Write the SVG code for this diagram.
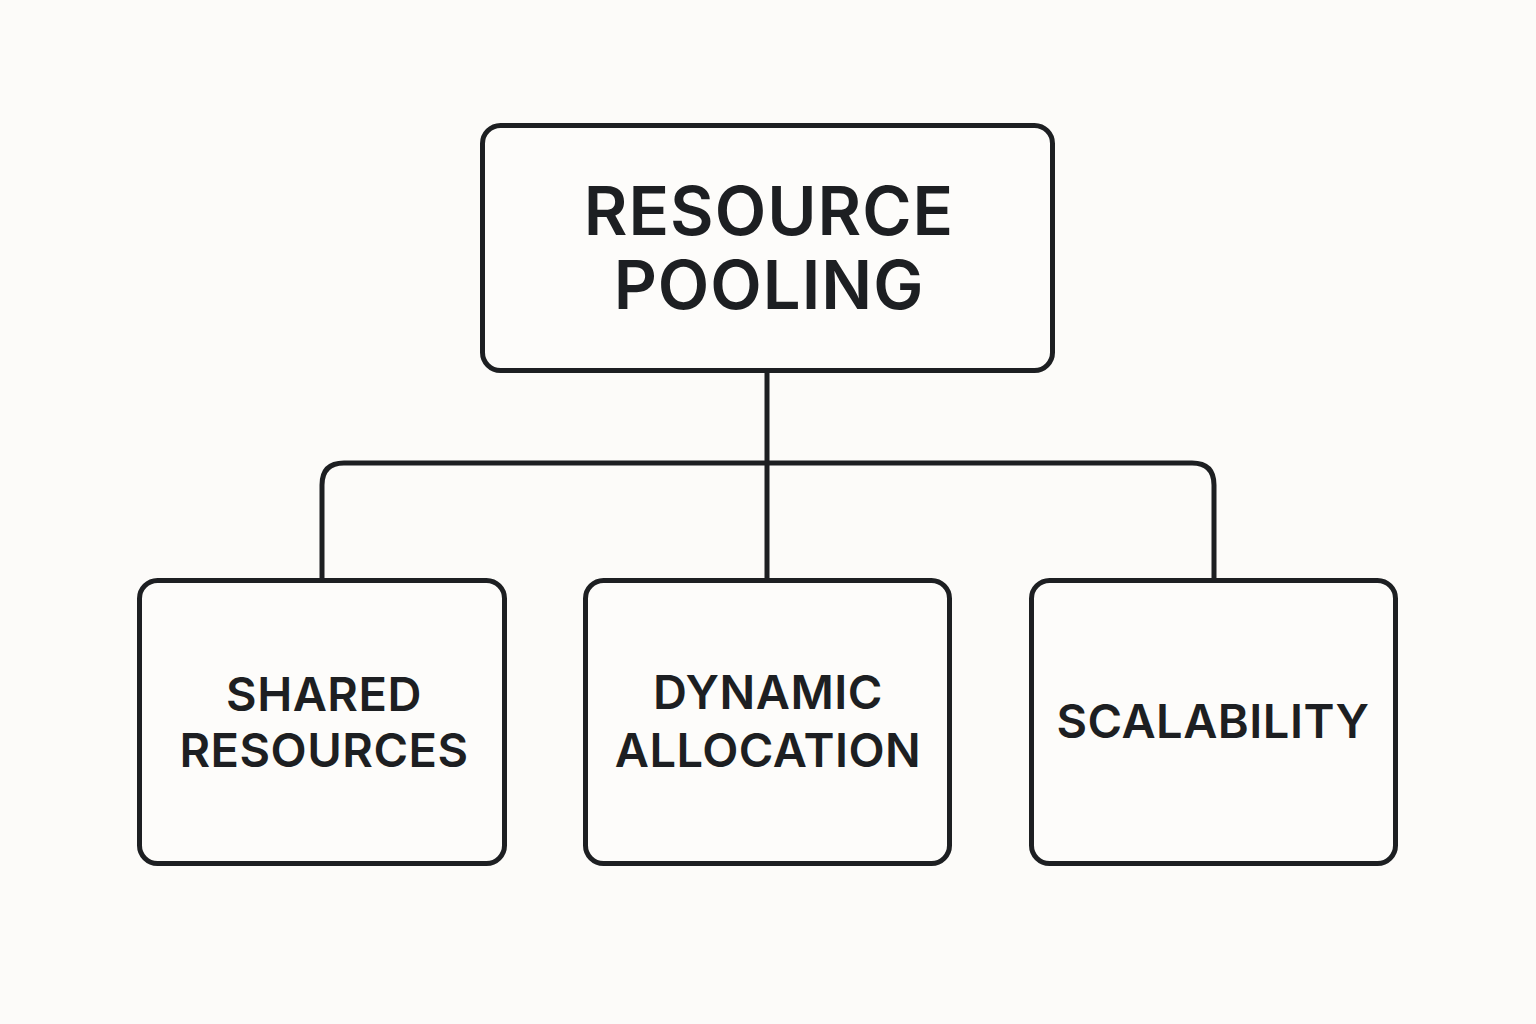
<svg xmlns="http://www.w3.org/2000/svg" width="1536" height="1024" viewBox="0 0 1536 1024">
<style>
.box{fill:#fdfcfa;stroke:#1d1f22;stroke-width:5}
.con{fill:none;stroke:#1d1f22;stroke-width:5}
.t{font-family:Inter,"Liberation Sans",sans-serif;font-weight:600;fill:#1d1f22;text-anchor:middle}
.big{font-size:67px;letter-spacing:1px}
.sm{font-size:47px;letter-spacing:0.5px}
</style>
<rect width="1536" height="1024" fill="#fcfbf9"/>
<g id="connectors">
<path class="con" d="M767 371 V580"/>
<path class="con" d="M322 580 V485 Q322 463 344 463 H1192 Q1214 463 1214 485 V580"/>
</g>
<g id="root">
<rect class="box" x="482.5" y="125.5" width="570" height="245" rx="18"/>
<text class="t big" x="769" y="235">RESOURCE</text>
<text class="t big" x="769" y="309">POOLING</text>
</g>
<g id="shared">
<rect class="box" x="139.5" y="580.5" width="365" height="283" rx="18"/>
<text class="t sm" x="324" y="711">SHARED</text>
<text class="t sm" x="324" y="767">RESOURCES</text>
</g>
<g id="dynamic">
<rect class="box" x="585.5" y="580.5" width="364" height="283" rx="18"/>
<text class="t sm" x="768" y="709">DYNAMIC</text>
<text class="t sm" x="768" y="767">ALLOCATION</text>
</g>
<g id="scalability">
<rect class="box" x="1031.5" y="580.5" width="364" height="283" rx="18"/>
<text class="t sm" x="1213" y="738">SCALABILITY</text>
</g>
</svg>
